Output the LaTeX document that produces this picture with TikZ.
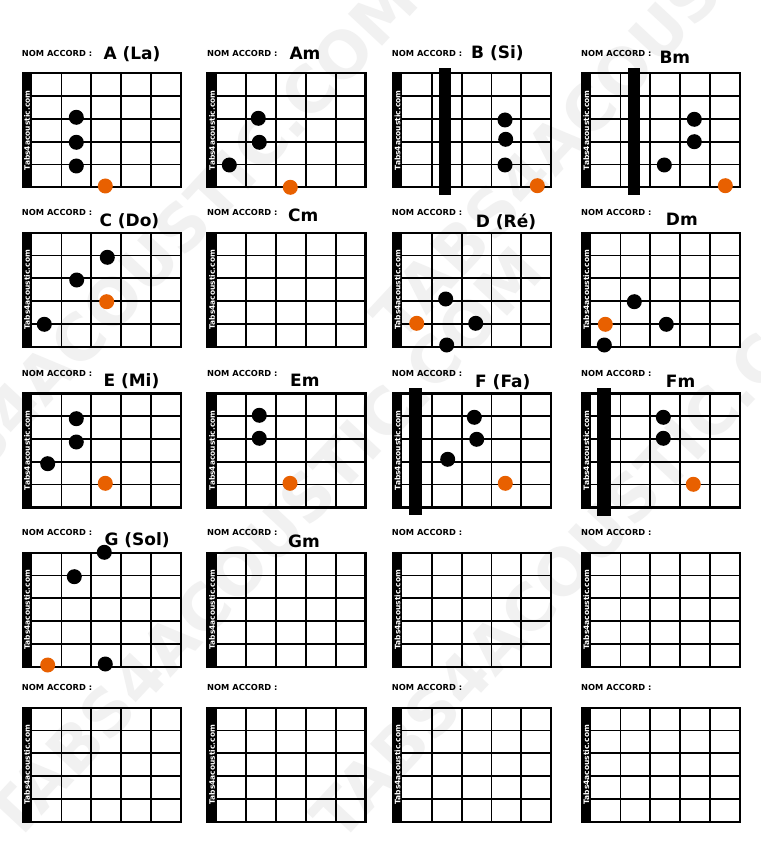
\documentclass[tikz,border=0pt]{standalone}
\usepackage{fontspec}
\setmainfont{DejaVu Sans}
\definecolor{rootorange}{RGB}{232,96,0}
\definecolor{wmark}{RGB}{241,241,241}
\tikzset{
  bdot/.style={circle,fill=black,inner sep=0pt,minimum size=15pt},
  odot/.style={circle,fill=rootorange,inner sep=0pt,minimum size=15pt},
  nomlabel/.style={anchor=base west,inner sep=0pt,font=\bfseries\fontsize{8.3}{10}\selectfont},
  chordname/.style={anchor=base west,inner sep=0pt,font=\bfseries\fontsize{17}{20}\selectfont},
  brand/.style={rotate=90,text=white,inner sep=0pt,font=\bfseries\fontsize{7.5}{8}\selectfont},
  barrebar/.style={fill=black},
  wm/.style={anchor=base west,rotate=47,inner sep=0pt,text=wmark,font=\bfseries\fontsize{64}{70}\selectfont},
  gridline/.style={line width=1.8pt},
  frameline/.style={line width=2.4pt},
}
\newcommand\fretbox[3]{%
  \fill (#2,#3) rectangle ++(9,114);
  \foreach \k in {1,...,4} {\draw[gridline] ({#2+9+\k*29.8},#3) -- ++(0,114);}
  \foreach \k in {1,...,4} {\draw[gridline] (#2,{#3+\k*22.8}) -- ++(158,0);}
  \draw[frameline] (#2,#3) rectangle ++(158,114);
  \node[brand] (#1-brand) at ({#2+4.5},{#3+57}) {Tabs4acoustic.com};
}
\begin{document}
\begin{tikzpicture}[x=1pt,y=-1pt]
\useasboundingbox (0,0) rectangle (760,850);
\fill[white] (0,0) rectangle (760,850);
% watermark
\begin{scope}
  \clip (0,0) rectangle (760,850);
  \node[wm] (wm1) at (15,845) {TABS4ACOUSTIC.COM};
  \node[wm] (wm2) at (-110,575) {TABS4ACOUSTIC.COM};
  \node[wm] (wm3) at (400,345) {TABS4ACOUSTIC.COM};
  \node[wm] (wm4) at (340,845) {TABS4ACOUSTIC.COM};
\end{scope}
% grids
\fretbox{g11}{22.7}{73.3}   \fretbox{g12}{207.5}{73.3}  \fretbox{g13}{393}{73.3}   \fretbox{g14}{581.7}{73.3}
\fretbox{g21}{22.7}{232.7}  \fretbox{g22}{207.5}{232.7} \fretbox{g23}{393}{232.7}  \fretbox{g24}{581.7}{232.7}
\fretbox{g31}{22.7}{393.3}  \fretbox{g32}{207.5}{393.3} \fretbox{g33}{393}{393.3}  \fretbox{g34}{581.7}{393.3}
\fretbox{g41}{22.7}{552.7}  \fretbox{g42}{207.5}{552.7} \fretbox{g43}{393}{552.7}  \fretbox{g44}{581.7}{552.7}
\fretbox{g51}{22.7}{707.7}  \fretbox{g52}{207.5}{707.7} \fretbox{g53}{393}{707.7}  \fretbox{g54}{581.7}{707.7}
% labels
\foreach \r/\y in {1/56.6,2/215.6,3/376.6,4/535.6,5/690}{
  \node[nomlabel] (nom\r1) at (21.7,\y) {NOM ACCORD :};
  \node[nomlabel] (nom\r2) at (207,\y) {NOM ACCORD :};
  \node[nomlabel] (nom\r3) at (391.7,\y) {NOM ACCORD :};
  \node[nomlabel] (nom\r4) at (581,\y) {NOM ACCORD :};
}
\node[chordname] (nA)  at (103.3,59.5) {A (La)};
\node[chordname] (nAm) at (289.3,59.3) {Am};
\node[chordname] (nB)  at (471,58.5) {B (Si)};
\node[chordname] (nBm) at (659.3,63.5) {Bm};
\node[chordname] (nC)  at (99.3,226) {C (Do)};
\node[chordname] (nCm) at (288,222) {Cm};
\node[chordname] (nD)  at (475.7,227.3) {D (Ré)};
\node[chordname] (nDm) at (665.7,225.7) {Dm};
\node[chordname] (nE)  at (103.3,386) {E (Mi)};
\node[chordname] (nEm) at (290,386.7) {Em};
\node[chordname] (nF)  at (475,387.3) {F (Fa)};
\node[chordname] (nFm) at (665.7,387.3) {Fm};
\node[chordname] (nG)  at (104.3,545) {G (Sol)};
\node[chordname] (nGm) at (288,547) {Gm};
% barres
\fill[barrebar] (439.3,68.3) rectangle (451,195);
\fill[barrebar] (628.3,68.3) rectangle (640,195);
\fill[barrebar] (409.3,388.3) rectangle (421.7,515);
\fill[barrebar] (597.3,388.3) rectangle (610.7,515.7);
% A
\node[bdot] (A1) at (76.3,117.3) {};
\node[bdot] (A2) at (76.3,142.3) {};
\node[bdot] (A3) at (76.3,166) {};
\node[odot] (A4) at (105.3,186) {};
% Am
\node[bdot] (Am1) at (258.3,118.3) {};
\node[bdot] (Am2) at (259.3,142.3) {};
\node[bdot] (Am3) at (229.3,165) {};
\node[odot] (Am4) at (290.3,187.3) {};
% B
\node[bdot] (B1) at (505,120) {};
\node[bdot] (B2) at (505.7,139.3) {};
\node[bdot] (B3) at (505,165) {};
\node[odot] (B4) at (537.3,185.7) {};
% Bm
\node[bdot] (Bm1) at (694.3,119.3) {};
\node[bdot] (Bm2) at (694.3,141.7) {};
\node[bdot] (Bm3) at (664.3,165) {};
\node[odot] (Bm4) at (725.3,185.7) {};
% C
\node[bdot] (C1) at (107.3,257.3) {};
\node[bdot] (C2) at (76.7,280) {};
\node[bdot] (C3) at (44.3,324.3) {};
\node[odot] (C4) at (106.7,301.7) {};
% D
\node[bdot] (D1) at (445.7,299) {};
\node[bdot] (D2) at (475.7,323.3) {};
\node[bdot] (D3) at (446.7,345) {};
\node[odot] (D4) at (416.7,323.3) {};
% Dm
\node[bdot] (Dm1) at (634.3,301.7) {};
\node[bdot] (Dm2) at (666.3,324.3) {};
\node[bdot] (Dm3) at (604.3,345) {};
\node[odot] (Dm4) at (605.3,324.3) {};
% E
\node[bdot] (E1) at (76.3,418.7) {};
\node[bdot] (E2) at (76.3,442) {};
\node[bdot] (E3) at (47.7,463.7) {};
\node[odot] (E4) at (105.3,483.3) {};
% Em
\node[bdot] (Em1) at (259.3,415.3) {};
\node[bdot] (Em2) at (259.3,438.3) {};
\node[odot] (Em3) at (290,483.3) {};
% F
\node[bdot] (F1) at (474.3,417.3) {};
\node[bdot] (F2) at (476.7,439.3) {};
\node[bdot] (F3) at (447.7,459.3) {};
\node[odot] (F4) at (505.3,483.3) {};
% Fm
\node[bdot] (Fm1) at (663.3,417.3) {};
\node[bdot] (Fm2) at (663.3,438.3) {};
\node[odot] (Fm3) at (693.3,484.3) {};
% G
\node[bdot] (G1) at (104.3,552.3) {};
\node[bdot] (G2) at (74.3,576.7) {};
\node[bdot] (G3) at (105.3,664) {};
\node[odot] (G4) at (47.7,665) {};
\end{tikzpicture}
\end{document}
